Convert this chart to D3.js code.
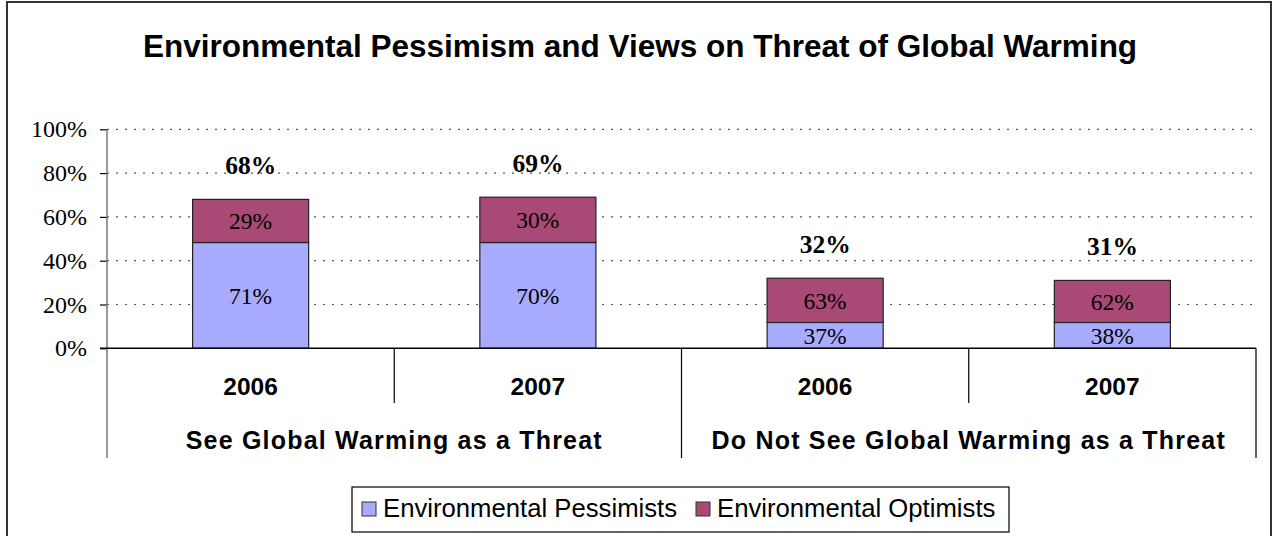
<!DOCTYPE html>
<html>
<head>
<meta charset="utf-8">
<script src="https://cdn.jsdelivr.net/npm/d3@7"></script>
<style>
  html, body { margin: 0; padding: 0; background: #fff; }
  svg { display: block; }
</style>
</head>
<body>
<svg id="chart" width="1274" height="536"></svg>
<script>
// ---- Data ----
const categories = ["2006", "2007", "2006", "2007"];
const groupLabels = ["See Global Warming as a Threat", "Do Not See Global Warming as a Threat"];
const groupOf = [0, 0, 1, 1];
const seriesNames = ["Environmental Pessimists", "Environmental Optimists"];
const pessimistHeights = [48.3, 48.3, 11.8, 11.8];   // % of all respondents (bar segment height)
const optimistHeights  = [19.7, 20.7, 20.2, 19.2];
const pessimistLabels = ["71%", "70%", "37%", "38%"];
const optimistLabels  = ["29%", "30%", "63%", "62%"];
const totalLabels     = ["68%", "69%", "32%", "31%"];
const yTicks = [0, 20, 40, 60, 80, 100];
const colors = ["#A9ABFE", "#A94A76"];

const svg = d3.select("#chart");

// Outer frame
svg.append("rect").attr("x", 7).attr("y", 2).attr("width", 1264).attr("height", 545)
  .attr("fill", "none").attr("stroke", "#333").attr("stroke-width", 2);

// Title
svg.append("text").attr("x", 640).attr("y", 57).attr("text-anchor", "middle")
  .attr("font-family", "Arial, 'Liberation Sans', sans-serif").attr("font-weight", "bold")
  .attr("font-size", 31.5).attr("fill", "#000")
  .text("Environmental Pessimism and Views on Threat of Global Warming");

const x0 = 107, x1 = 1256, yBottom = 348.3, yTop = 129.3;
const x = d3.scaleBand().domain(d3.range(categories.length)).range([x0, x1])
  .paddingInner(0.596).paddingOuter(0.298);
const y = d3.scaleLinear().domain([0, 100]).range([yBottom, yTop]);

// Gridlines
svg.append("g").selectAll("line").data(yTicks.filter(t => t > 0)).join("line")
  .attr("x1", x0).attr("x2", x1).attr("y1", d => y(d)).attr("y2", d => y(d))
  .attr("stroke", "#555").attr("stroke-width", 1.2).attr("stroke-dasharray", "2,7");

// Bars
const stacks = categories.map((c, i) => [
  { i, s: 0, y0: 0, y1: pessimistHeights[i], label: pessimistLabels[i] },
  { i, s: 1, y0: pessimistHeights[i], y1: pessimistHeights[i] + optimistHeights[i], label: optimistLabels[i] }
]).flat();

svg.append("g").selectAll("rect").data(stacks).join("rect")
  .attr("x", d => x(d.i)).attr("width", x.bandwidth())
  .attr("y", d => y(d.y1)).attr("height", d => y(d.y0) - y(d.y1))
  .attr("fill", d => colors[d.s]).attr("stroke", "#222").attr("stroke-width", 1.2);

svg.append("g").selectAll("text").data(stacks).join("text")
  .attr("x", d => x(d.i) + x.bandwidth() / 2)
  .attr("y", d => (y(d.y0) + y(d.y1)) / 2)
  .attr("dy", "0.35em").attr("text-anchor", "middle")
  .attr("font-family", "'Times New Roman', 'Liberation Serif', serif")
  .attr("font-size", 23.5).attr("fill", "#000")
  .text(d => d.label);

// Totals
svg.append("g").selectAll("text").data(categories).join("text")
  .attr("x", (d, i) => x(i) + x.bandwidth() / 2)
  .attr("y", (d, i) => y(pessimistHeights[i] + optimistHeights[i]) - 34)
  .attr("dy", "0.35em").attr("text-anchor", "middle")
  .attr("font-family", "'Times New Roman', 'Liberation Serif', serif")
  .attr("font-weight", "bold").attr("font-size", 25.5).attr("fill", "#000")
  .text((d, i) => totalLabels[i]);

// Y axis
const yAxis = svg.append("g").attr("transform", `translate(${x0},0)`)
  .call(d3.axisLeft(y).tickValues(yTicks).tickFormat(d => d + "%").tickSize(7).tickPadding(13));
yAxis.select(".domain").remove();
yAxis.selectAll(".tick line").attr("stroke", "#000").attr("stroke-width", 1.2);
yAxis.selectAll(".tick text")
  .attr("font-family", "'Times New Roman', 'Liberation Serif', serif")
  .attr("font-size", 24).attr("fill", "#000");
svg.append("line").attr("x1", x0).attr("x2", x0).attr("y1", yTop).attr("y2", 458)
  .attr("stroke", "#777").attr("stroke-width", 1.5);

// X axis line
svg.append("line").attr("x1", 100).attr("x2", x1).attr("y1", yBottom).attr("y2", yBottom)
  .attr("stroke", "#000").attr("stroke-width", 1.5);

// Category separators
const step = x.step();
const boundary = i => x(i) + x.bandwidth() / 2 + step / 2;   // right boundary of band i
svg.append("g").selectAll("line").data(d3.range(categories.length - 1)).join("line")
  .attr("x1", i => boundary(i)).attr("x2", i => boundary(i))
  .attr("y1", yBottom).attr("y2", i => groupOf[i] !== groupOf[i + 1] ? 458 : 403)
  .attr("stroke", "#000").attr("stroke-width", 1.2);
svg.append("line").attr("x1", x1).attr("x2", x1).attr("y1", yBottom).attr("y2", 458)
  .attr("stroke", "#000").attr("stroke-width", 1.2);

// Category labels
svg.append("g").selectAll("text").data(categories).join("text")
  .attr("x", (d, i) => x(i) + x.bandwidth() / 2).attr("y", 395)
  .attr("text-anchor", "middle")
  .attr("font-family", "Arial, 'Liberation Sans', sans-serif").attr("font-weight", "bold")
  .attr("font-size", 24.5).attr("fill", "#000")
  .text(d => d);

// Group labels
svg.append("g").selectAll("text").data(groupLabels).join("text")
  .attr("x", (d, g) => {
    const idx = d3.range(categories.length).filter(i => groupOf[i] === g);
    return (x(idx[0]) + x(idx[idx.length - 1]) + x.bandwidth()) / 2;
  })
  .attr("y", 449).attr("text-anchor", "middle")
  .attr("font-family", "Arial, 'Liberation Sans', sans-serif").attr("font-weight", "bold")
  .attr("font-size", 25).attr("letter-spacing", 1.2).attr("fill", "#000")
  .text(d => d);

// Legend
const lg = svg.append("g");
lg.append("rect").attr("x", 352).attr("y", 487).attr("width", 657).attr("height", 45)
  .attr("fill", "#fff").attr("stroke", "#000").attr("stroke-width", 1.2);
const legendX = [362, 696];
seriesNames.forEach((n, k) => {
  lg.append("rect").attr("x", legendX[k]).attr("y", 502).attr("width", 14).attr("height", 14)
    .attr("fill", colors[k]).attr("stroke", "#333").attr("stroke-width", 1);
  lg.append("text").attr("x", legendX[k] + 21).attr("y", 517)
    .attr("font-family", "Arial, 'Liberation Sans', sans-serif")
    .attr("font-size", 25.7).attr("fill", "#000").text(n);
});
</script>
</body>
</html>
